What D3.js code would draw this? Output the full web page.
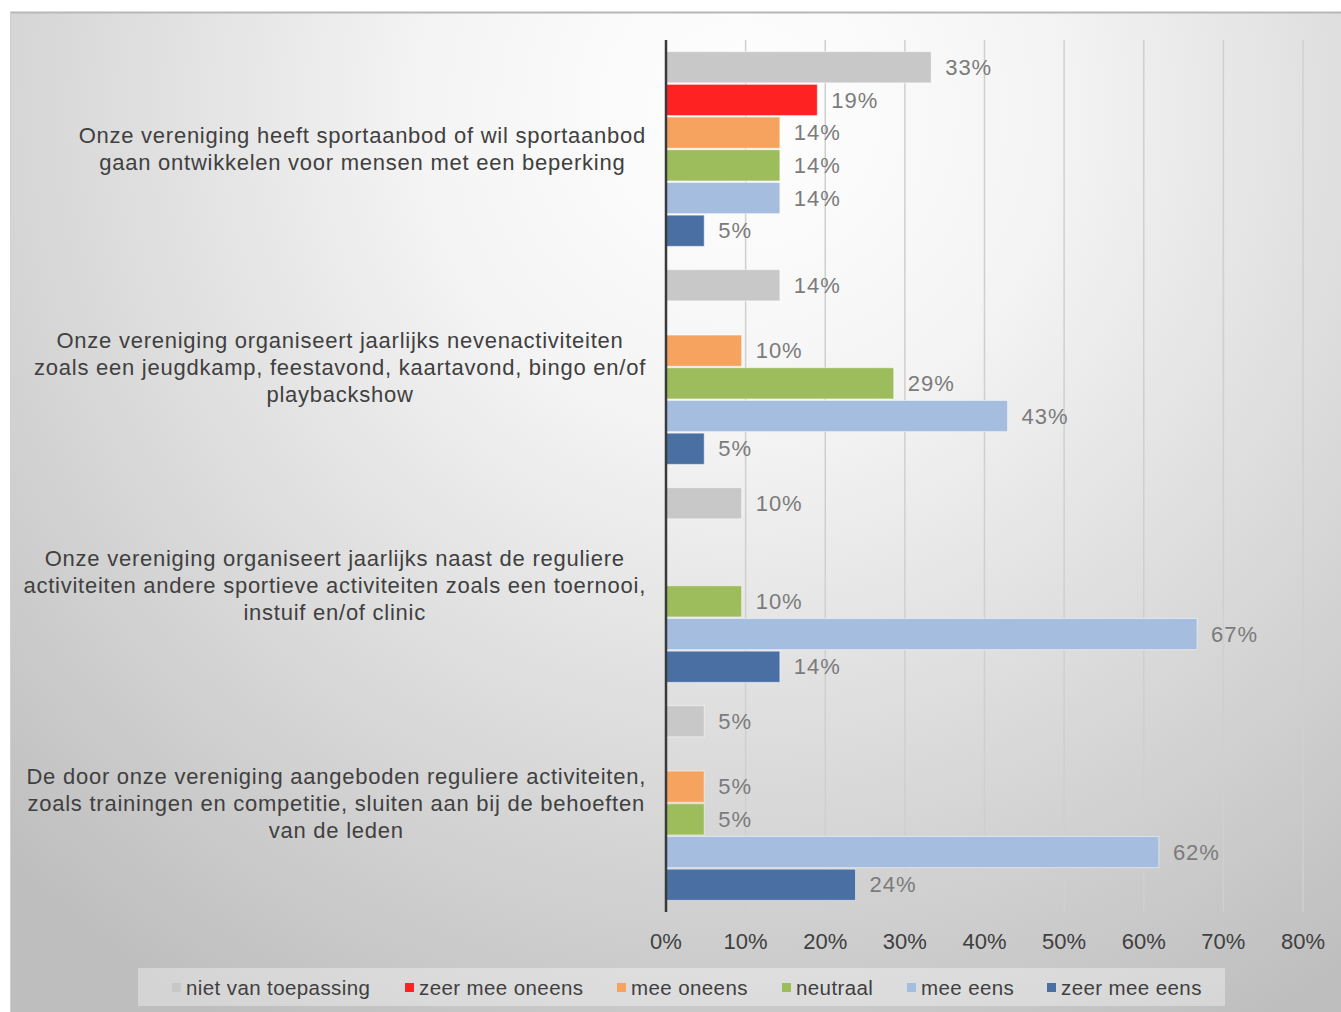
<!DOCTYPE html>
<html lang="nl">
<head>
<meta charset="utf-8"/>
<title>Stellingen vereniging</title>
<script src="https://cdn.jsdelivr.net/npm/d3@7"></script>
<style>
  body { margin: 0; background: #ffffff; }
  svg { display: block; font-family: "Liberation Sans", Arial, sans-serif; }
</style>
</head>
<body>
<svg id="chart"></svg>
<script>
// categories, top to bottom
const categories = [
  ["Onze vereniging heeft sportaanbod of wil sportaanbod", "gaan ontwikkelen voor mensen met een beperking"],
  ["Onze vereniging organiseert jaarlijks nevenactiviteiten", "zoals een jeugdkamp, feestavond, kaartavond, bingo en/of", "playbackshow"],
  ["Onze vereniging organiseert jaarlijks naast de reguliere", "activiteiten andere sportieve activiteiten zoals een toernooi,", "instuif en/of clinic"],
  ["De door onze vereniging aangeboden reguliere activiteiten,", "zoals trainingen en competitie, sluiten aan bij de behoeften", "van de leden"]
]
const seriesNames = ["niet van toepassing", "zeer mee oneens", "mee oneens", "neutraal", "mee eens", "zeer mee eens"]
const seriesColors = ["#c8c8c8", "#ff2222", "#f6a35f", "#9dbd5d", "#a5bee0", "#4a70a3"]

// values in % per series (null = no answer)
const nietVanToepassing = [33.3, 14.3, 9.5, 4.8]
const zeerMeeOneens = [19.0, null, null, null]
const meeOneens = [14.3, 9.5, null, 4.8]
const neutraal = [14.3, 28.6, 9.5, 4.8]
const meeEens = [14.3, 42.9, 66.7, 61.9]
const zeerMeeEens = [4.8, 4.8, 14.3, 23.8]
const allSeries = [nietVanToepassing, zeerMeeOneens, meeOneens, neutraal, meeEens, zeerMeeEens]

const xTicks = [0, 10, 20, 30, 40, 50, 60, 70, 80]

const W = 1341, H = 1012
const svg = d3.select('#chart').attr('width', W).attr('height', H)

// background with soft radial shading
const defs = svg.append('defs')
const grad = defs.append('radialGradient')
  .attr('id', 'bg').attr('gradientUnits', 'userSpaceOnUse')
  .attr('cx', 740).attr('cy', 110).attr('r', 1050)
grad.append('stop').attr('offset', '0%').attr('stop-color', '#ffffff')
grad.append('stop').attr('offset', '30%').attr('stop-color', '#f4f4f4')
grad.append('stop').attr('offset', '100%').attr('stop-color', '#bebebe')

svg.append('rect').attr('x', 10).attr('y', 12).attr('width', W - 10).attr('height', H - 12)
  .attr('fill', 'url(#bg)')
svg.append('line').attr('x1', 10).attr('x2', W).attr('y1', 12.5).attr('y2', 12.5)
  .attr('stroke', '#b8b8b8').attr('stroke-width', 2)
svg.append('line').attr('x1', 10.5).attr('x2', 10.5).attr('y1', 12).attr('y2', H)
  .attr('stroke', '#d0d0d0').attr('stroke-width', 1)

const plot = { left: 666, top: 40, bottom: 912 }

const x = d3.scaleLinear().domain([0, 80]).range([plot.left, 1303])
const y = d3.scaleBand().domain(d3.range(categories.length)).range([plot.top, plot.bottom]).paddingInner(0.1).paddingOuter(0.05)
const ySub = d3.scaleBand().domain(d3.range(seriesNames.length)).range([0, y.bandwidth()])

// gridlines
svg.append('g').selectAll('line').data(xTicks.slice(1)).join('line')
  .attr('x1', d => x(d)).attr('x2', d => x(d))
  .attr('y1', plot.top).attr('y2', plot.bottom)
  .attr('stroke', '#cfcfcf').attr('stroke-width', 1.5)

// bars
const groups = svg.append('g').selectAll('g').data(categories).join('g')
  .attr('transform', (d, i) => `translate(0,${y(i)})`)

groups.each(function (cat, ci) {
  const rows = allSeries.map((s, si) => ({ si, v: s[ci] })).filter(d => d.v != null)
  const g = d3.select(this)
  g.selectAll('rect').data(rows).join('rect')
    .attr('x', x(0)).attr('y', d => ySub(d.si) + 0.75)
    .attr('width', d => x(d.v) - x(0)).attr('height', ySub.bandwidth() - 1.5)
    .attr('fill', d => seriesColors[d.si])
    .attr('stroke', '#ffffff').attr('stroke-opacity', 0.5).attr('stroke-width', 1)
  g.selectAll('text').data(rows).join('text')
    .attr('x', d => x(d.v) + 14).attr('y', d => ySub(d.si) + ySub.bandwidth() / 2)
    .attr('dy', '0.35em')
    .attr('fill', '#7b7b7b').attr('font-size', 22).attr('letter-spacing', 1)
    .text(d => Math.round(d.v) + '%')
})

// axis line
svg.append('line').attr('x1', x(0)).attr('x2', x(0)).attr('y1', plot.top).attr('y2', plot.bottom)
  .attr('stroke', '#3a3a3a').attr('stroke-width', 2.5)

// x tick labels
svg.append('g').selectAll('text').data(xTicks).join('text')
  .attr('x', d => x(d)).attr('y', 941).attr('dy', '0.35em')
  .attr('text-anchor', 'middle').attr('fill', '#404040').attr('font-size', 22)
  .text(d => d + '%')

// category labels, centred lines, block right-aligned
const catG = svg.append('g')
categories.forEach((lines, ci) => {
  const g = catG.append('g')
  const lh = 27
  const cy = y(ci) + y.bandwidth() / 2
  const texts = lines.map((t, li) => g.append('text')
    .attr('y', cy + (li - (lines.length - 1) / 2) * lh).attr('dy', '0.35em')
    .attr('text-anchor', 'middle').attr('fill', '#404040').attr('font-size', 22)
    .attr('letter-spacing', 0.75)
    .text(t))
  const maxW = d3.max(texts, t => t.node().getComputedTextLength())
  texts.forEach(t => t.attr('x', 646 - maxW / 2))
})

// legend
svg.append('rect').attr('x', 138).attr('y', 968).attr('width', 1087).attr('height', 38)
  .attr('fill', '#ffffff').attr('fill-opacity', 0.35)
const legendX = [172, 405, 617, 782, 907, 1047]
const leg = svg.append('g').selectAll('g').data(seriesNames).join('g')
  .attr('transform', (d, i) => `translate(${legendX[i]},988)`)
leg.append('rect').attr('x', 0).attr('y', -5).attr('width', 9).attr('height', 9)
  .attr('fill', (d, i) => seriesColors[i])
leg.append('text').attr('x', 14).attr('dy', '0.35em')
  .attr('fill', '#404040').attr('font-size', 20.5).attr('letter-spacing', 0.4)
  .text(d => d)
</script>
</body>
</html>
